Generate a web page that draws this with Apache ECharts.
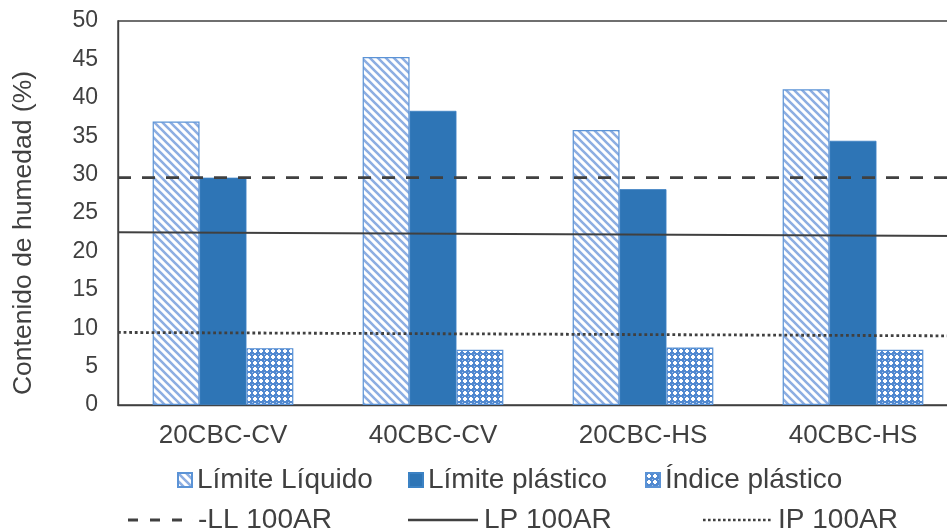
<!DOCTYPE html>
<html><head><meta charset="utf-8">
<script src="https://cdn.jsdelivr.net/npm/echarts@6/dist/echarts.min.js"></script>
<style>html,body{margin:0;padding:0;background:#fff;overflow:hidden;width:947px;height:531px}#c{width:962px;height:531px}</style>
</head><body><div id="c"></div>
<script>
const categories = ['20CBC-CV', '40CBC-CV', '20CBC-HS', '40CBC-HS'];
const limiteLiquido = [36.9, 45.3, 35.8, 41.1];
const limitePlastico = [29.6, 38.3, 28.1, 34.4];
const indicePlastico = [7.4, 7.2, 7.5, 7.2];
const lineX = [0, 1];
const ll100AR = [29.6, 29.6];
const lp100AR = [22.5, 22.0];
const ip100AR = [9.45, 9.0];
const yTicks = [0, 5, 10, 15, 20, 25, 30, 35, 40, 45, 50];

function stripePattern() {
  const c = document.createElement('canvas'); c.width = 8; c.height = 8;
  const g = c.getContext('2d');
  g.fillStyle = '#ffffff'; g.fillRect(0, 0, 8, 8);
  g.strokeStyle = '#8DAEE2'; g.lineWidth = 2.6;
  g.beginPath();
  g.moveTo(-2, -2); g.lineTo(10, 10);
  g.moveTo(-2, 6); g.lineTo(2, 10);
  g.moveTo(6, -2); g.lineTo(10, 2);
  g.stroke();
  return c;
}
function dotPattern() {
  const c = document.createElement('canvas'); c.width = 6; c.height = 6;
  const g = c.getContext('2d');
  g.fillStyle = '#5189D0'; g.fillRect(0, 0, 6, 6);
  g.fillStyle = '#ffffff';
  g.fillRect(2, 1, 2, 4); g.fillRect(1, 2, 4, 2);
  g.fillStyle = '#A4C2EA';
  g.fillRect(0, 0, 1, 1);
  return c;
}
// legend line icons (style only)
function dashIcon(dash, gap, count, h, total) {
  let p = 'path://';
  for (let k = 0; k < count; k++) p += 'M' + (k * (dash + gap)) + ',0h' + dash + 'v' + h + 'h-' + dash + 'z';
  p += 'M' + (total - 0.01) + ',0h0.01v' + h + 'h-0.01z';
  return p;
}
const font = 'Liberation Sans, Arial, sans-serif';
const txt = '#404040';
const chart = echarts.init(document.getElementById('c'));
const names = ['Límite Líquido', 'Límite plástico', 'Índice plástico', '-LL 100AR', 'LP 100AR', 'IP 100AR'];
const legendPos = [[177, 466], [408, 466], [645, 466], [128, 506], [408, 506], [703, 506]];
const lineIcons = [null, null, null,
  { icon: dashIcon(10, 12, 3, 3, 65), w: 65, h: 3 },
  { icon: 'path://M0,0h70v2.6h-70z', w: 72, h: 2.6 },
  { icon: dashIcon(2.6, 2.4, 14, 2.6, 70), w: 70, h: 2.6 }];
const legends = names.map((n, i) => {
  const l = {
    data: [n], left: legendPos[i][0], top: legendPos[i][1], padding: 0,
    itemWidth: 14, itemHeight: 14, itemGap: 6, selectedMode: false,
    textStyle: { fontSize: 28, color: txt, fontFamily: font }
  };
  if (i < 3) { l.icon = 'rect'; }
  else {
    l.icon = lineIcons[i].icon; l.itemWidth = lineIcons[i].w; l.itemHeight = lineIcons[i].h;
    l.itemStyle = { color: '#404040', borderWidth: 0, opacity: 1 };
  }
  return l;
});
chart.setOption({
  animation: false,
  textStyle: { fontFamily: font },
  grid: { left: 118, top: 21, width: 840, height: 384, show: true, borderColor: '#404040', borderWidth: 1.4, backgroundColor: 'transparent' },
  legend: legends,
  graphic: [{ type: 'text', x: 24, y: 233, rotation: Math.PI / 2,
    style: { text: 'Contenido de humedad (%)', fontSize: 26.5, fontFamily: font, fill: txt, align: 'center', verticalAlign: 'middle' } }],
  xAxis: [
    { type: 'category', data: categories, axisTick: { show: false },
      axisLine: { lineStyle: { color: '#404040', width: 1.4 } },
      axisLabel: { fontSize: 26, color: txt, margin: 18, fontFamily: font } },
    { type: 'value', min: 0, max: 1, show: false }
  ],
  yAxis: { type: 'value', min: 0, max: 50, interval: 5,
    axisLine: { show: true, lineStyle: { color: '#404040', width: 1.4 } },
    axisTick: { show: false }, splitLine: { show: false },
    axisLabel: { fontSize: 23, color: txt, margin: 20, fontFamily: font,
      formatter: v => yTicks.includes(v) ? String(v) : '' } },
  series: [
    { name: names[0], type: 'bar', data: limiteLiquido, barGap: '0%', barCategoryGap: '33%',
      itemStyle: { color: { image: stripePattern(), repeat: 'repeat' }, borderColor: '#5B93D6', borderWidth: 1.2 } },
    { name: names[1], type: 'bar', data: limitePlastico,
      itemStyle: { color: '#2E75B6', borderColor: '#3C82C4', borderWidth: 0.8 } },
    { name: names[2], type: 'bar', data: indicePlastico,
      itemStyle: { color: { image: dotPattern(), repeat: 'repeat' }, borderColor: '#5B93D6', borderWidth: 1.2 } },
    { name: names[3], type: 'line', xAxisIndex: 1, data: lineX.map((x, i) => [x, ll100AR[i]]), symbol: 'none',
      lineStyle: { color: '#404040', width: 2.8, type: [13, 11] }, itemStyle: { color: '#404040' } },
    { name: names[4], type: 'line', xAxisIndex: 1, data: lineX.map((x, i) => [x, lp100AR[i]]), symbol: 'none',
      lineStyle: { color: '#404040', width: 2, type: 'solid' }, itemStyle: { color: '#404040' } },
    { name: names[5], type: 'line', xAxisIndex: 1, data: lineX.map((x, i) => [x, ip100AR[i]]), symbol: 'none',
      lineStyle: { color: '#404040', width: 2.8, type: [2.8, 2.8] }, itemStyle: { color: '#404040' } }
  ]
});
</script></body></html>
